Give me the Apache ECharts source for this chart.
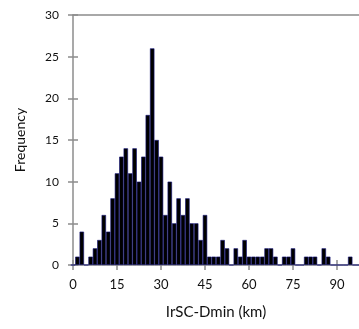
<!DOCTYPE html>
<html>
<head>
<meta charset="utf-8">
<script src="https://cdn.jsdelivr.net/npm/echarts@6/dist/echarts.min.js"></script>
<style>
html,body{margin:0;padding:0;background:#fff;}
#chart{width:359px;height:329px;}
</style>
</head>
<body>
<div id="chart"></div>
<script>
// Bin centres (km), bins of 1.5 km
const binCenters = ["0","1.5","3","4.5","6","7.5","9","10.5","12","13.5","15","16.5","18","19.5","21","22.5","24","25.5","27","28.5","30","31.5","33","34.5","36","37.5","39","40.5","42","43.5","45","46.5","48","49.5","51","52.5","54","55.5","57","58.5","60","61.5","63","64.5","66","67.5","69","70.5","72","73.5","75","76.5","78","79.5","81","82.5","84","85.5","87","88.5","90","91.5","93","94.5","96","97.5"];
// Frequency per bin
const frequency = [0,1,4,0,1,2,3,6,4,8,11,13,14,11,14,10,13,18,26,15,13,6,10,5,8,6,8,5,5,3,6,1,1,1,3,2,0,2,1,3,1,1,1,1,2,2,1,0,1,1,2,0,0,1,1,1,0,2,1,0,0,0,0,1,0,0];
// Tick labels shown on the x axis
const xTickLabels = ["0","15","30","45","60","75","90"];
const yMin = 0, yMax = 30, yStep = 5;

const grey = '#8c8c8c';
const font = 'Lato, "Noto Sans", sans-serif';
const chart = echarts.init(document.getElementById('chart'), null, {renderer:'canvas'});
const catAxisBase = {type:'category', data: binCenters, boundaryGap:false, gridIndex:0};
chart.setOption({
  animation:false,
  backgroundColor:'#fff',
  grid:{left:73, top:15, right:0, bottom:64, containLabel:false},
  xAxis:[
    Object.assign({}, catAxisBase, {
      position:'bottom',
      axisLine:{show:true, lineStyle:{color:grey, width:1.5}},
      axisTick:{show:true, interval:9, length:5, lineStyle:{color:grey, width:1.5}},
      axisLabel:{interval:9, margin:13, fontSize:13, color:'#111', fontFamily:font,
        formatter:(v)=> xTickLabels.includes(v) ? v : ''},
      name:'IrSC-Dmin (km)', nameLocation:'middle', nameGap:40,
      nameTextStyle:{fontSize:15, color:'#111', fontFamily:font}
    }),
    Object.assign({}, catAxisBase, {
      position:'bottom',
      axisLine:{show:false},
      axisTick:{show:true, inside:true, interval:9, length:5, lineStyle:{color:grey, width:1.5}},
      axisLabel:{show:false}
    }),
    Object.assign({}, catAxisBase, {
      position:'top',
      axisLine:{show:true, lineStyle:{color:grey, width:1.5}},
      axisTick:{show:false},
      axisLabel:{show:false}
    })
  ],
  yAxis:[
    {type:'value', min:yMin, max:yMax, interval:yStep, position:'left',
      axisLine:{show:true, lineStyle:{color:grey, width:1.5}},
      axisTick:{show:true, length:5, lineStyle:{color:grey, width:1.5}},
      axisLabel:{margin:14, fontSize:12, color:'#111', fontFamily:font},
      splitLine:{show:false},
      name:'Frequency', nameLocation:'middle', nameGap:46,
      nameTextStyle:{fontSize:14, color:'#111', fontFamily:font}
    },
    {type:'value', min:yMin, max:yMax, interval:yStep, position:'left',
      axisLine:{show:false},
      axisTick:{show:true, inside:true, length:5, lineStyle:{color:grey, width:1.5}},
      axisLabel:{show:false}, splitLine:{show:false}
    }
  ],
  series:[{
    type:'bar', xAxisIndex:0, yAxisIndex:0,
    data: frequency,
    barCategoryGap:'0%',
    itemStyle:{color:'#000', borderColor:'#101078', borderWidth:0.6},
    clip:true
  }]
});
</script>
</body>
</html>
